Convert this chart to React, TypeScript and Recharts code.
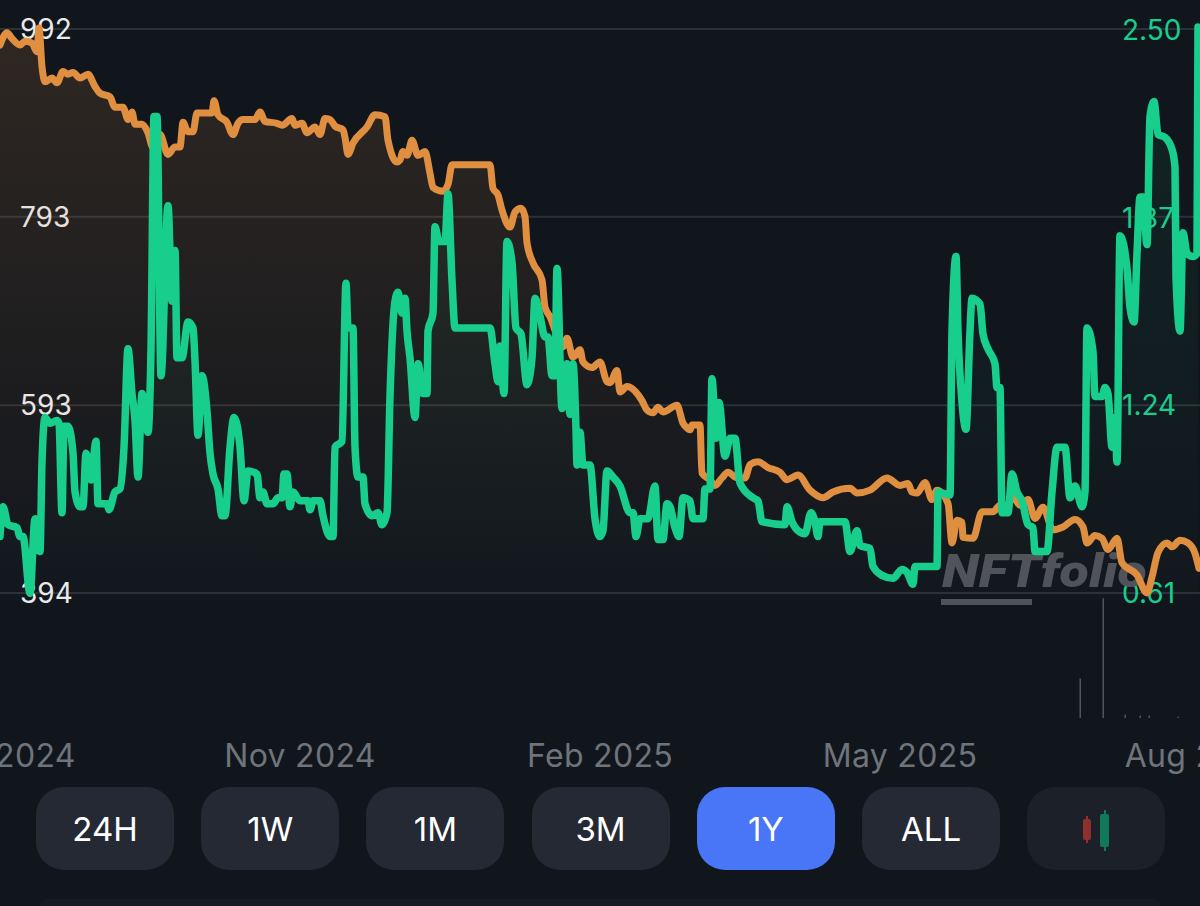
import React from "react";
import { ComposedChart, Area, Bar, XAxis, YAxis, ReferenceLine } from "recharts";

// x positions are months since Aug 2024
const orangeMonths = [0,.07,.12,.2,.25,.32,.37,.39,.42,.45,.52,.57,.63,.68,.73,.8,.88,.95,1,1.1,1.15,1.23,1.28,1.32,1.35,1.42,1.48,1.53,1.6,1.68,1.75,1.8,1.83,1.88,1.93,1.97,2.12,2.14,2.18,2.27,2.33,2.38,2.43,2.55,2.6,2.65,2.77,2.82,2.92,2.95,3.02,3.07,3.15,3.2,3.25,3.3,3.35,3.43,3.45,3.48,3.53,3.67,3.75,3.85,3.88,3.97,4,4.03,4.07,4.12,4.18,4.25,4.3,4.33,4.43,4.48,4.52,4.9,4.93,4.98,5.02,5.1,5.15,5.21,5.25,5.27,5.33,5.42,5.45,5.5,5.63,5.67,5.73,5.8,5.83,5.92,6,6.07,6.1,6.17,6.2,6.27,6.42,6.47,6.53,6.58,6.63,6.77,6.83,6.87,6.9,6.92,7,7.02,7.1,7.15,7.22,7.28,7.37,7.45,7.5,7.58,7.68,7.8,7.87,7.98,8.1,8.23,8.33,8.5,8.57,8.7,8.87,9,9.08,9.12,9.17,9.25,9.32,9.37,9.48,9.52,9.57,9.62,9.63,9.73,9.82,9.93,10,10.08,10.13,10.2,10.28,10.35,10.43,10.53,10.63,10.75,10.83,10.87,10.95,11.02,11.08,11.17,11.22,11.37,11.47,11.52,11.58,11.67,11.72,11.8,11.88,11.95,11.99];
const orangeValues = [975,988,982,975,979,977,968,993,952,936,940,935,947,944,946,940,944,931,924,920,909,909,896,904,891,891,882,866,880,859,867,867,893,883,883,903,903,916,901,893,880,892,896,896,904,894,892,890,897,890,892,882,888,880,897,896,889,885,877,859,871,888,901,899,874,851,853,862,858,874,858,862,839,824,820,827,848,848,823,816,800,782,798,802,793,765,744,726,697,687,655,664,644,652,639,633,639,618,617,630,607,613,598,588,585,591,586,593,574,569,567,572,572,521,514,508,516,522,516,516,530,533,527,522,514,519,503,495,501,505,500,503,516,508,510,501,500,511,493,503,489,447,471,469,453,452,480,480,487,487,496,487,493,473,485,461,464,472,464,447,455,452,440,452,426,413,394,411,437,447,443,450,447,436,420];

const greenMonths = [0,.03,.08,.17,.2,.23,.3,.35,.4,.42,.45,.5,.57,.59,.62,.64,.68,.73,.75,.8,.83,.86,.91,.96,.98,1.07,1.09,1.15,1.2,1.24,1.28,1.32,1.35,1.38,1.42,1.48,1.51,1.54,1.57,1.61,1.68,1.72,1.75,1.77,1.82,1.88,1.93,1.95,1.98,2.02,2.07,2.1,2.13,2.18,2.22,2.25,2.3,2.34,2.4,2.44,2.48,2.57,2.6,2.63,2.67,2.73,2.78,2.82,2.84,2.87,2.9,2.93,3,3.08,3.1,3.13,3.17,3.2,3.23,3.3,3.33,3.35,3.42,3.46,3.48,3.53,3.55,3.58,3.63,3.65,3.72,3.78,3.82,3.87,3.9,3.95,3.98,4.02,4.05,4.07,4.1,4.15,4.18,4.23,4.27,4.28,4.33,4.35,4.39,4.45,4.48,4.52,4.55,4.9,4.95,4.98,5,5.04,5.07,5.12,5.16,5.21,5.27,5.32,5.35,5.4,5.45,5.48,5.52,5.55,5.57,5.62,5.67,5.7,5.73,5.76,5.77,5.8,5.83,5.9,5.95,6,6.03,6.07,6.13,6.2,6.3,6.33,6.36,6.4,6.48,6.55,6.58,6.63,6.67,6.7,6.75,6.79,6.83,6.9,6.93,7.03,7.05,7.1,7.12,7.16,7.19,7.25,7.3,7.35,7.4,7.53,7.58,7.62,7.85,7.87,7.92,7.98,8.05,8.11,8.15,8.18,8.2,8.45,8.5,8.57,8.6,8.7,8.73,8.82,8.93,9.02,9.07,9.13,9.15,9.37,9.38,9.5,9.52,9.56,9.58,9.62,9.66,9.7,9.72,9.8,9.83,9.88,9.95,9.97,10,10.02,10.08,10.12,10.17,10.22,10.28,10.33,10.35,10.47,10.52,10.57,10.65,10.7,10.75,10.82,10.85,10.87,10.93,10.95,11.02,11.05,11.08,11.12,11.15,11.17,11.2,11.27,11.3,11.34,11.37,11.4,11.43,11.47,11.5,11.54,11.58,11.65,11.72,11.75,11.76,11.8,11.83,11.87,11.93,11.97,11.98];
const greenValues = [.8,.9,.84,.83,.8,.8,.61,.86,.75,1.05,1.2,1.18,1.19,1.18,.88,1.17,1.17,1.08,.95,.9,.9,1.08,.99,1.12,.91,.91,.89,.95,.96,1.1,1.43,1.28,1.19,1,1.28,1.15,1.43,2.21,2.21,1.34,1.91,1.59,1.76,1.4,1.4,1.52,1.5,1.39,1.14,1.34,1.22,1.08,1.01,.96,.87,.87,1.1,1.2,1.1,.92,1.02,1.01,.93,.95,.91,.91,.93,.93,1.01,1.01,.9,.95,.92,.92,.89,.92,.92,.92,.87,.8,.8,1.1,1.12,1.65,1.5,1.5,1.1,1,1,.91,.87,.88,.84,.88,1.27,1.59,1.62,1.55,1.6,1.49,1.4,1.2,1.38,1.28,1.28,1.49,1.55,1.84,1.79,1.79,1.95,1.66,1.5,1.5,1.38,1.32,1.44,1.28,1.79,1.72,1.5,1.48,1.31,1.4,1.6,1.54,1.47,1.47,1.34,1.34,1.7,1.23,1.38,1.21,1.38,1.16,1.04,1.15,1.04,1.04,.86,.8,.82,1.02,1,.97,.88,.88,.8,.86,.86,.97,.79,.79,.91,.9,.83,.8,.93,.92,.86,.86,.96,.96,1.33,1.13,1.25,1.07,1.13,1.13,.98,.93,.92,.85,.84,.9,.85,.82,.81,.88,.85,.8,.85,.85,.75,.82,.77,.76,.7,.67,.66,.69,.68,.64,.7,.7,.95,.94,1.49,1.74,1.49,1.25,1.16,1.49,1.6,1.58,1.48,1.43,1.38,1.3,1.3,.88,.88,1.01,.95,.92,.84,.83,.75,.75,.95,1.1,1.1,.93,.97,.9,.95,1.5,1.42,1.27,1.27,1.3,1.28,1.1,1.2,1.05,1.81,1.7,1.57,1.52,1.75,1.94,1.94,1.78,2.21,2.26,2.15,2.14,2.1,2.04,1.67,1.49,1.82,1.75,1.74,1.75,2.51];

const volumeMonths = [10.8, 11.03, 11.25, 11.4, 11.49, 11.78];
const volumeValues = [33, 100, 3, 2, 2, 1];

const leftTicks = [394, 593, 793, 992];
const rightTicks = [0.61, 1.24, 1.87, 2.5];
const xTicks = [0, 3, 6, 9, 12];
const xLabels = ["Aug 2024", "Nov 2024", "Feb 2025", "May 2025", "Aug 2025"];
const ranges = ["24H", "1W", "1M", "3M", "1Y", "ALL"];

const zip = (xs: number[], ys: number[], key: string) => xs.map((x, i) => ({ x, [key]: ys[i] }));
const orangeData = zip(orangeMonths, orangeValues, "price");
const greenData = zip(greenMonths, greenValues, "ratio");
const volumeData = zip(volumeMonths, volumeValues, "volume");

const BG = "#11161d";
const FONT = "Inter, Roboto, sans-serif";
const priceDomain: [number, number] = [261.4, 1022.75];
const ratioDomain: [number, number] = [0.1913, 2.6007];

const LeftTick = (p: any) => (
  <text x={20} y={p.y + 10} fill="#e9eaec" fontSize={28} fontFamily={FONT}>{p.payload.value}</text>
);
const RightTick = (p: any) => (
  <text x={1122} y={p.y + 10} fill="#17ce8d" fontSize={28} fontFamily={FONT}>{p.payload.value.toFixed(2)}</text>
);
const BottomTick = (p: any) => (
  <text x={p.x} y={767} textAnchor="middle" fill="#6f747b" fontSize={32} fontFamily={FONT} letterSpacing={0.3}>{xLabels[p.index]}</text>
);

const buttonBox = (left: number, bg: string): React.CSSProperties => ({
  position: "absolute", left, top: 787, width: 138, height: 83, borderRadius: 28, background: bg,
  color: "#fff", fontSize: 33, fontFamily: FONT, display: "flex", alignItems: "center", justifyContent: "center",
});

export default function App() {
  return (
    <div style={{ position: "absolute", left: 0, top: 0, width: 1200, height: 906, background: BG, overflow: "hidden" }}>
      <div style={{ position: "absolute", left: 0, top: 0 }}>
        <ComposedChart width={1200} height={790} data={volumeData} margin={{ top: 0, right: 0, bottom: 0, left: 0 }}>
          <XAxis dataKey="x" type="number" domain={[0, 12]} ticks={xTicks} interval={0} height={72} axisLine={false} tickLine={false} tick={BottomTick} allowDataOverflow />
          <YAxis yAxisId="price" orientation="left" mirror width={2} domain={priceDomain} ticks={leftTicks} axisLine={false} tickLine={false} tick={LeftTick} interval={0} allowDataOverflow />
          <YAxis yAxisId="ratio" orientation="right" mirror width={2} domain={ratioDomain} ticks={rightTicks} axisLine={false} tickLine={false} tick={RightTick} interval={0} allowDataOverflow />
          <YAxis yAxisId="vol" hide domain={[0, 600]} allowDataOverflow />
          {leftTicks.map((v) => (
            <ReferenceLine key={v} yAxisId="price" y={v} stroke="#2c3038" strokeWidth={2} />
          ))}
          <Bar yAxisId="vol" dataKey="volume" barSize={1.5} fill="#50555c" isAnimationActive={false} />
        </ComposedChart>
      </div>
      <div style={{ position: "absolute", left: 942, top: 542, fontFamily: "Roboto, sans-serif", fontWeight: 900, fontStyle: "italic", fontSize: 46, transform: "scaleX(1.17)", transformOrigin: "left", color: "#4f5259", whiteSpace: "nowrap", lineHeight: "58px" }}>NFTfolio</div>
      <div style={{ position: "absolute", left: 941, top: 599, width: 91, height: 6, background: "#4f5259" }} />
      <div style={{ position: "absolute", left: 0, top: 0 }}>
        <ComposedChart width={1200} height={718} margin={{ top: 0, right: 0, bottom: 0, left: 0 }}>
          <defs>
            <linearGradient id="orangeFill" x1="0" y1="0" x2="0" y2="1">
              <stop offset="0" stopColor="#e08e3f" stopOpacity={0.24} />
              <stop offset="0.85" stopColor="#e08e3f" stopOpacity={0} />
            </linearGradient>
            <linearGradient id="greenFill" x1="0" y1="0" x2="0" y2="1">
              <stop offset="0" stopColor="#17ce8d" stopOpacity={0.14} />
              <stop offset="0.85" stopColor="#17ce8d" stopOpacity={0} />
            </linearGradient>
          </defs>
          <XAxis dataKey="x" type="number" domain={[0, 12]} hide allowDataOverflow />
          <YAxis yAxisId="price" hide domain={priceDomain} allowDataOverflow />
          <YAxis yAxisId="ratio" hide orientation="right" domain={ratioDomain} allowDataOverflow />
          <Area yAxisId="price" data={orangeData} dataKey="price" type="monotone" stroke="#e08e3f" strokeWidth={7} strokeLinejoin="round" strokeLinecap="round" fill="url(#orangeFill)" dot={false} activeDot={false} isAnimationActive={false} />
          <Area yAxisId="ratio" data={greenData} dataKey="ratio" type="monotone" stroke="#17ce8d" strokeWidth={7.5} strokeLinejoin="round" strokeLinecap="round" fill="url(#greenFill)" dot={false} activeDot={false} isAnimationActive={false} />
        </ComposedChart>
      </div>
      {ranges.map((r, i) => (
        <div key={r} style={buttonBox(36 + i * 165.2, r === "1Y" ? "#4876f6" : "#252933")}>{r}</div>
      ))}
      <div style={buttonBox(1027, "#1c2028")}>
        <div style={{ position: "absolute", left: 56, top: 32, width: 8, height: 21, background: "#8f2f2f", borderRadius: 2 }} />
        <div style={{ position: "absolute", left: 59, top: 29, width: 2, height: 27, background: "#8f2f2f" }} />
        <div style={{ position: "absolute", left: 73, top: 27, width: 9, height: 33, background: "#0f7a59", borderRadius: 2 }} />
        <div style={{ position: "absolute", left: 76.5, top: 23, width: 2, height: 41, background: "#0f7a59" }} />
      </div>
      <div style={{ position: "absolute", left: 40, top: 899, width: 1120, height: 7, background: "#151a21", borderRadius: "8px 8px 0 0" }} />
    </div>
  );
}
